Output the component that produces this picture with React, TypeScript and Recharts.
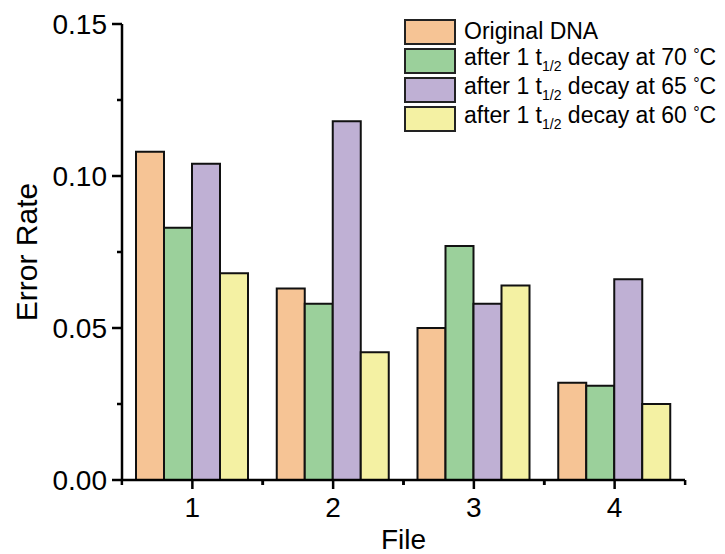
import { Bar, BarChart, XAxis, YAxis } from "recharts";

const files = ["1", "2", "3", "4"];
const original = [0.108, 0.063, 0.05, 0.032];
const decay70 = [0.083, 0.058, 0.077, 0.031];
const decay65 = [0.104, 0.118, 0.058, 0.066];
const decay60 = [0.068, 0.042, 0.064, 0.025];
const yTicks = [0, 0.025, 0.05, 0.075, 0.1, 0.125, 0.15];
const yLabels = ["0.00", "", "0.05", "", "0.10", "", "0.15"];

const series = [
  { key: "original", temp: "", fill: "#F6C495" },
  { key: "decay70", temp: "70", fill: "#9BD09B" },
  { key: "decay65", temp: "65", fill: "#BFB0D4" },
  { key: "decay60", temp: "60", fill: "#F4F1A3" },
];

const data = files.map((file, i) => ({
  file,
  original: original[i],
  decay70: decay70[i],
  decay65: decay65[i],
  decay60: decay60[i],
}));

const FONT = "'Liberation Sans', Arial, sans-serif";
const HALF_BAND = 70.5;

function YTick(props: any) {
  const { x, y, index } = props;
  const label = yLabels[index];
  return (
    <g>
      <line x1={x} x2={x - (label ? 10 : 5)} y1={y} y2={y} stroke="#000" strokeWidth={2.5} />
      {label && (
        <text x={x - 15} y={y} dy={10} textAnchor="end" fontSize={28} fontFamily={FONT} fill="#000">
          {label}
        </text>
      )}
    </g>
  );
}

function XTick(props: any) {
  const { x, y, payload } = props;
  return (
    <g>
      <line x1={x} x2={x} y1={y} y2={y + 9} stroke="#000" strokeWidth={2.5} />
      <line x1={x - HALF_BAND} x2={x - HALF_BAND} y1={y} y2={y + 5} stroke="#000" strokeWidth={2.5} />
      <line x1={x + HALF_BAND} x2={x + HALF_BAND} y1={y} y2={y + 5} stroke="#000" strokeWidth={2.5} />
      <text x={x} y={y + 37} textAnchor="middle" fontSize={28} fontFamily={FONT} fill="#000">
        {payload.value}
      </text>
    </g>
  );
}

function FileLabel(props: any) {
  const { viewBox } = props;
  return (
    <text
      x={viewBox.x + viewBox.width / 2}
      y={viewBox.y + 69}
      textAnchor="middle"
      fontSize={28}
      fontFamily={FONT}
      fill="#000"
    >
      File
    </text>
  );
}

function ErrorLabel(props: any) {
  const { viewBox } = props;
  const cx = 37;
  const cy = viewBox.y + viewBox.height / 2;
  return (
    <text
      x={cx}
      y={cy}
      transform={`rotate(-90, ${cx}, ${cy})`}
      textAnchor="middle"
      fontSize={30}
      fontFamily={FONT}
      fill="#000"
    >
      Error Rate
    </text>
  );
}

function LegendBox() {
  return (
    <div style={{ position: "absolute", left: 404, top: 17, fontFamily: FONT, fontSize: 23, color: "#000" }}>
      {series.map((s) => (
        <div key={s.key} style={{ display: "flex", alignItems: "center", height: 29 }}>
          <div
            style={{
              width: 48,
              height: 22,
              background: s.fill,
              border: "2px solid #222",
              marginRight: 8,
            }}
          />
          <span style={{ whiteSpace: "nowrap", lineHeight: "29px" }}>
            {s.temp ? (
              <>
                after 1 t
                <sub style={{ fontSize: 14, verticalAlign: "-6px" }}>1/2</sub> decay at {s.temp}{" "}
                <span style={{ fontSize: 16, verticalAlign: "5px" }}>°</span>C
              </>
            ) : (
              "Original DNA"
            )}
          </span>
        </div>
      ))}
    </div>
  );
}

export default function App() {
  return (
    <div
      style={{
        position: "absolute",
        left: 0,
        top: 0,
        width: 725,
        height: 554,
        background: "#fff",
        overflow: "hidden",
      }}
    >
      <BarChart
        width={725}
        height={554}
        data={data}
        margin={{ top: 24, right: 40, bottom: 0, left: 0 }}
        barCategoryGap={14}
        barGap={0}
      >
        <XAxis
          dataKey="file"
          height={74}
          tickSize={0}
          tickMargin={0}
          tickLine={false}
          tick={<XTick />}
          axisLine={{ stroke: "#000", strokeWidth: 2.5 }}
          label={<FileLabel />}
        />
        <YAxis
          width={122}
          domain={[0, 0.15]}
          ticks={yTicks}
          interval={0}
          tickSize={0}
          tickMargin={0}
          tickLine={false}
          tick={<YTick />}
          axisLine={{ stroke: "#000", strokeWidth: 2.5 }}
          label={<ErrorLabel />}
        />
        {series.map((s) => (
          <Bar
            key={s.key}
            dataKey={s.key}
            fill={s.fill}
            stroke="#111"
            strokeWidth={2}
            isAnimationActive={false}
          />
        ))}
      </BarChart>
      <LegendBox />
    </div>
  );
}
